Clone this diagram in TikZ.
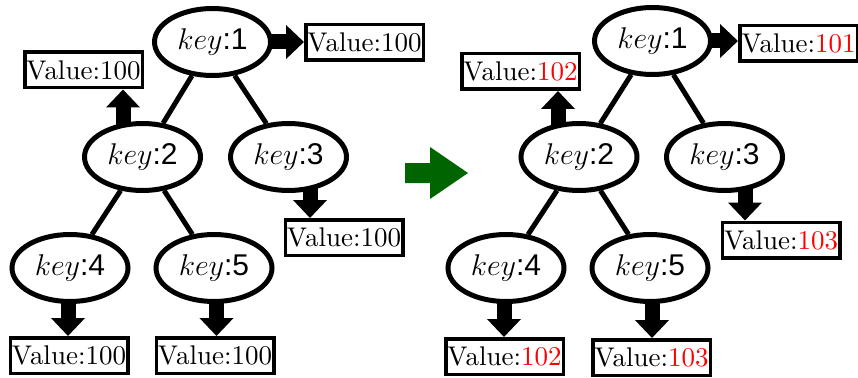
\RequirePackage{fix-cm}
\documentclass[tikz,border=0pt]{standalone}
\usepackage{fontspec}
\newfontfamily\keyfont{Liberation Sans}
\newfontfamily\valfont{lmroman10-regular.otf}
\usetikzlibrary{shapes.geometric,arrows.meta}
\definecolor{arrowgreen}{RGB}{0,100,0}
\pgfdeclarelayer{bg}
\pgfsetlayers{bg,main}
\newcommand\keylabel[1]{$key${\keyfont :#1}}
\newcommand\val[1]{Value:#1}
\newcommand\newval[1]{Value:\textcolor{red}{#1}}
\tikzset{
  keynode/.style={ellipse, draw, line width=5pt, fill=white,
    minimum width=116pt, minimum height=67pt, inner sep=0pt,
    font=\fontsize{30}{32}\selectfont},
  valbox/.style={rectangle, draw, line width=3.5pt, fill=white,
    minimum width=117.5pt, minimum height=35.5pt, inner sep=0pt,
    font=\valfont\fontsize{27}{30}\selectfont},
  treeedge/.style={line width=5pt},
  fatarrow/.style={line width=15pt, -{Triangle[length=18pt,width=33pt]}},
}
\begin{document}
\begin{tikzpicture}[x=1pt,y=-1pt]
\useasboundingbox (0,0) rectangle (858,377);

% tree before the update
\node[keynode] (L1) at (212.5,42) {\keylabel{1}};
\node[keynode] (L2) at (142.5,157) {\keylabel{2}};
\node[keynode] (L3) at (288.5,157) {\keylabel{3}};
\node[keynode] (L4) at (70,268) {\keylabel{4}};
\node[keynode] (L5) at (214,268) {\keylabel{5}};
\node[valbox] (B1) at (364.5,42.5) {\val{100}};
\node[valbox] (B2) at (83.5,70) {\val{100}};
\node[valbox] (B3) at (344,237.5) {\val{100}};
\node[valbox] (B4) at (69,355.5) {\val{100}};
\node[valbox] (B5) at (215,355.5) {\val{100}};

% tree after the update
\node[keynode] (R1) at (652.5,41) {\keylabel{1}};
\node[keynode] (R2) at (579,157) {\keylabel{2}};
\node[keynode] (R3) at (724.5,157) {\keylabel{3}};
\node[keynode] (R4) at (506,268) {\keylabel{4}};
\node[keynode] (R5) at (650,268) {\keylabel{5}};
\node[valbox] (RB1) at (798.5,43.5) {\newval{101}};
\node[valbox] (RB2) at (520.5,71.5) {\newval{102}};
\node[valbox] (RB3) at (781,240) {\newval{103}};
\node[valbox] (RB4) at (504.5,356.5) {\newval{102}};
\node[valbox] (RB5) at (651.5,357.5) {\newval{103}};

\begin{pgfonlayer}{bg}
  % tree edges
  \draw[treeedge] (L1) -- (L2);
  \draw[treeedge] (L1) -- (L3);
  \draw[treeedge] (L2) -- (L4);
  \draw[treeedge] (L2) -- (L5);
  \draw[treeedge] (R1) -- (R2);
  \draw[treeedge] (R1) -- (R3);
  \draw[treeedge] (R2) -- (R4);
  \draw[treeedge] (R2) -- (R5);
  % key -> value pointers
  \draw[fatarrow] (L1.center) -- (L1.center -| B1.west);
  \draw[fatarrow] ([xshift=-19.5pt]L2.center) -- ([xshift=-19.5pt]L2.center |- B2.south);
  \draw[fatarrow] ([xshift=21.5pt]L3.center) -- ([xshift=21.5pt]L3.center |- B3.north);
  \draw[fatarrow] ([xshift=-2pt]L4.center) -- ([xshift=-2pt]L4.center |- B4.north);
  \draw[fatarrow] ([xshift=2.5pt]L5.center) -- ([xshift=2.5pt]L5.center |- B5.north);
  \draw[fatarrow] (R1.center) -- (R1.center -| RB1.west);
  \draw[fatarrow] ([xshift=-21pt]R2.center) -- ([xshift=-21pt]R2.center |- RB2.south);
  \draw[fatarrow] ([xshift=20.5pt]R3.center) -- ([xshift=20.5pt]R3.center |- RB3.north);
  \draw[fatarrow] ([xshift=-2pt]R4.center) -- ([xshift=-2pt]R4.center |- RB4.north);
  \draw[fatarrow] ([xshift=2pt]R5.center) -- ([xshift=2pt]R5.center |- RB5.north);
\end{pgfonlayer}

% transition arrow between the two trees
\fill[arrowgreen] (405,163) -- (430,163) -- (430,147) -- (468,173)
  -- (430,199) -- (430,183) -- (405,183) -- cycle;
\end{tikzpicture}
\end{document}
